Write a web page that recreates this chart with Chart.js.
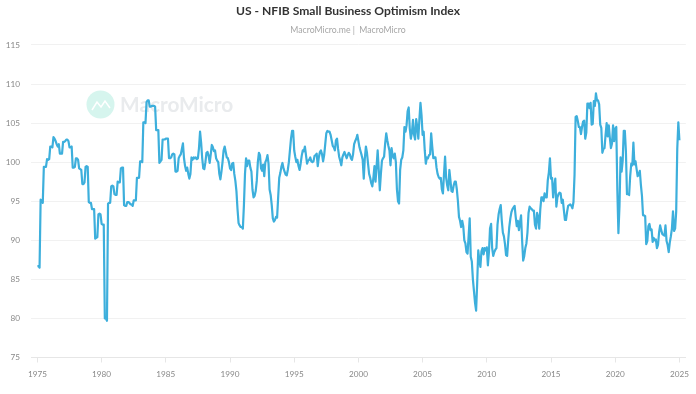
<!DOCTYPE html>
<html>
<head>
<meta charset="utf-8">
<title>US - NFIB Small Business Optimism Index</title>
<script src="https://cdn.jsdelivr.net/npm/chart.js@4/dist/chart.umd.min.js"></script>
<style>
    html, body { margin: 0; padding: 0; background: #fff; }
    canvas { display: block; }
</style>
</head>
<body>
<canvas id="nfibChart" width="696" height="394"></canvas>
<script>
const titleText = 'US - NFIB Small Business Optimism Index';
const subtitleText = 'MacroMicro.me |  MacroMicro';
const watermarkText = 'MacroMicro';

const startYear = 1975;
const xTicks = [1975, 1980, 1985, 1990, 1995, 2000, 2005, 2010, 2015, 2020, 2025];
const yTicks = [75, 80, 85, 90, 95, 100, 105, 110, 115];

// monthly values, one line per year (quarterly steps until 1985)
const optimismIndex = [
    86.7, 86.7, 86.5, 95.2, 95.0, 94.8, 99.4, 99.4, 99.4, 100.4, 100.3, 100.4,
    102.0, 102.0, 101.9, 103.2, 103.0, 102.7, 102.3, 102.0, 102.3, 101.1, 101.1, 101.1,
    102.6, 102.6, 102.7, 102.9, 102.9, 102.7, 101.9, 101.9, 102.0, 99.3, 99.3, 99.4,
    100.5, 100.5, 100.3, 99.2, 99.1, 99.0, 97.2, 97.2, 97.4, 99.4, 99.5, 99.4,
    94.9, 94.8, 94.8, 94.0, 94.0, 94.0, 90.2, 90.3, 90.4, 93.3, 93.4, 93.3,
    92.1, 92.0, 92.0, 80.0, 80.0, 79.7, 94.7, 94.8, 94.8, 96.9, 97.0, 96.9,
    95.9, 95.8, 95.8, 97.5, 97.4, 97.4, 99.2, 99.3, 99.3, 94.5, 94.4, 94.4,
    94.9, 94.9, 94.8, 94.6, 94.6, 94.4, 95.1, 95.1, 95.1, 98.0, 98.0, 98.0,
    100.1, 100.1, 100.0, 105.1, 105.1, 105.0, 107.7, 107.9, 107.9, 107.1, 107.1, 107.2,
    107.2, 107.2, 107.1, 104.1, 104.1, 104.1, 99.9, 100.1, 100.3, 102.9, 102.9, 102.9,
    103.0, 103.0, 103.0, 100.5, 100.5, 100.6, 101.0, 101.1, 101.0, 98.8, 98.8, 98.9,
    100.5, 100.8, 101.0, 101.7, 102.4, 100.5, 99.5, 98.9, 99.3, 98.5, 97.9, 98.5,
    100.6, 100.3, 100.6, 100.5, 100.6, 100.4, 100.5, 101.8, 103.9, 102.5, 100.5, 99.2,
    99.1, 100.0, 101.2, 101.3, 100.8, 99.9, 101.0, 102.2, 101.9, 101.4, 101.5, 100.5,
    100.2, 100.0, 98.5, 97.8, 98.8, 100.0, 101.5, 102.0, 101.3, 100.6, 100.5, 100.0,
    99.2, 99.0, 99.8, 99.9, 98.5, 97.6, 96.3, 94.0, 92.2, 91.9, 91.7, 91.7,
    91.5, 94.5, 98.5, 100.5, 99.5, 100.2, 100.2, 99.3, 98.8, 96.5, 95.5, 95.7,
    96.3, 97.6, 100.0, 101.2, 100.9, 99.2, 98.9, 99.7, 98.2, 100.0, 100.3, 100.9,
    99.8, 96.5, 95.8, 94.5, 92.8, 92.4, 92.6, 93.0, 92.9, 95.5, 98.0, 98.6,
    99.4, 99.9, 99.2, 98.8, 98.4, 98.3, 99.0, 100.0, 101.5, 103.0, 104.0, 104.0,
    101.5, 100.7, 100.0, 100.3, 99.5, 99.0, 99.8, 100.8, 101.5, 101.4, 102.0, 100.9,
    99.8, 100.2, 100.3, 100.6, 100.1, 100.0, 100.1, 100.8, 100.9, 101.1, 99.5, 100.6,
    101.3, 101.5, 101.0, 100.1, 100.9, 102.3, 103.7, 104.0, 103.9, 103.9, 103.5, 102.8,
    102.1, 101.9, 101.5, 102.8, 103.0, 101.7, 100.7, 100.2, 99.6, 100.6, 101.0, 101.3,
    100.9, 100.5, 100.9, 101.2, 101.0, 100.5, 100.3, 101.0, 102.3, 102.7, 103.0, 103.5,
    102.7, 101.9, 101.4, 100.9, 100.3, 97.9, 100.5, 102.0, 101.2, 99.8, 98.5, 98.0,
    97.3, 96.9, 98.0, 99.5, 97.5, 99.5, 101.5, 99.0, 96.4, 98.5, 100.2, 100.5,
    100.7, 102.4, 103.7, 102.8, 102.1, 101.5, 99.6, 101.8, 100.8, 100.5, 101.1, 100.0,
    96.5, 95.0, 94.7, 99.0, 100.3, 100.6, 101.5, 104.5, 103.9, 104.7, 106.5, 107.0,
    104.3, 103.0, 103.8, 105.4, 103.5, 102.9, 105.5, 104.5, 103.0, 105.5, 107.6, 106.0,
    103.5, 103.9, 101.5, 99.8, 100.6, 100.5, 100.9, 101.0, 103.7, 102.0, 100.5, 100.6,
    100.6, 99.3, 98.5, 98.1, 97.9, 98.0, 96.5, 96.0, 98.5, 100.7, 98.0, 97.0,
    96.4, 99.0, 97.7, 96.3, 96.2, 97.0, 97.5, 97.5, 96.5, 95.0, 93.0, 92.5,
    91.7, 92.5, 91.8, 90.0, 89.6, 88.5, 88.3, 90.5, 92.8, 87.9, 87.3, 85.0,
    83.5, 82.0, 81.0, 84.5, 88.7, 87.5, 86.6, 88.6, 89.0, 88.2, 89.0, 88.7,
    89.1, 86.8, 88.5, 91.5, 92.1, 89.0, 88.0, 88.5, 88.8, 89.0, 92.0, 93.3,
    94.0, 94.5, 92.5, 91.0, 90.5, 89.5, 88.1, 88.0, 90.0, 91.7, 92.8, 93.6,
    94.0, 94.2, 94.4, 93.0, 91.8, 92.5, 91.3, 92.3, 93.2, 90.0, 87.4, 88.0,
    89.0, 89.6, 91.0, 93.5, 94.3, 94.1, 94.0, 93.8, 93.8, 92.0, 91.5, 93.5,
    93.0, 91.5, 94.0, 95.5, 95.5, 95.0, 96.0, 95.5, 95.5, 97.7, 98.7, 100.5,
    97.9, 98.0, 95.5, 96.9, 97.9, 94.3, 95.5, 95.9, 96.1, 96.0, 94.8, 95.2,
    93.9, 92.6, 92.6, 93.6, 94.4, 94.5, 94.6, 94.4, 94.1, 94.9, 98.4, 105.8,
    105.9, 105.3, 104.5, 104.5, 103.6, 104.5, 105.2, 105.3, 103.0, 103.8, 107.5, 107.5,
    106.9, 107.6, 104.8, 104.9, 107.8, 107.2, 108.8, 107.9, 107.9, 107.4, 104.8, 104.4,
    101.2, 101.7, 101.8, 103.5, 105.0, 103.3, 104.7, 103.1, 101.8, 102.4, 104.7, 102.7,
    104.3, 104.5, 96.4, 90.9, 94.4, 100.6, 98.8, 100.2, 104.0, 104.0, 101.4, 95.9,
    95.9, 95.8, 98.2, 99.8, 99.6, 102.5, 99.7, 100.1, 99.1, 98.2, 98.4, 98.9,
    97.1, 95.7, 93.2, 93.2, 93.1, 89.5, 89.9, 91.8, 92.1, 91.3, 91.4, 89.8,
    90.3, 90.0, 90.1, 89.0, 89.4, 91.0, 91.9, 91.3, 90.8, 90.7, 90.6, 91.9,
    89.9, 89.4, 88.5, 89.7, 90.5, 91.5, 93.7, 91.2, 91.5, 93.7, 101.7, 105.1,
    102.8
];

const watermarkPlugin = {
    id: 'watermark',
    beforeDatasetsDraw: function(chart) {
        const ctx = chart.ctx;
        ctx.save();
        ctx.fillStyle = '#d6f5ee';
        ctx.beginPath();
        ctx.arc(100.5, 104.5, 14, 0, Math.PI * 2);
        ctx.fill();
        ctx.strokeStyle = '#ffffff';
        ctx.lineWidth = 1.5;
        ctx.beginPath();
        ctx.moveTo(92, 110);
        ctx.lineTo(97, 102);
        ctx.lineTo(101, 107);
        ctx.lineTo(105, 101);
        ctx.lineTo(110, 108);
        ctx.stroke();
        ctx.fillStyle = '#e9ebed';
        ctx.font = 'bold 20.8px Lato';
        ctx.textBaseline = 'middle';
        ctx.fillText(watermarkText, 120, 105);
        ctx.restore();
    }
};

new Chart(document.getElementById('nfibChart'), {
    type: 'line',
    data: {
        datasets: [{
            data: optimismIndex.map((v, i) => ({ x: startYear + i / 12, y: v })),
            borderColor: '#3dafdc',
            borderWidth: 2.2,
            borderJoinStyle: 'round',
            pointRadius: 0,
            tension: 0,
            fill: false
        }]
    },
    options: {
        responsive: false,
        animation: false,
        plugins: {
            legend: { display: false },
            tooltip: { enabled: false },
            title: {
                display: true,
                text: titleText,
                color: '#333333',
                font: { family: 'Lato', size: 12.1, weight: 'bold' },
                padding: { top: 4, bottom: 6 }
            },
            subtitle: {
                display: true,
                text: subtitleText,
                color: '#a6a6a6',
                font: { family: 'Lato', size: 8.7, weight: 'normal' },
                padding: { top: 0, bottom: 10 }
            }
        },
        scales: {
            x: {
                type: 'linear',
                min: 1974.5,
                max: 2025.5,
                afterBuildTicks: axis => { axis.ticks = xTicks.map(v => ({ value: v })); },
                afterFit: axis => { axis.height = 36.5; },
                grid: { drawOnChartArea: false, color: '#e6e6e6', tickLength: 5 },
                border: { color: '#e6e6e6' },
                ticks: {
                    color: '#888888',
                    font: { family: 'Lato', size: 8.2 },
                    maxRotation: 0,
                    autoSkip: false,
                    padding: 7,
                    callback: v => String(v)
                }
            },
            y: {
                min: 75,
                max: 115,
                afterBuildTicks: axis => { axis.ticks = yTicks.map(v => ({ value: v })); },
                afterFit: axis => { axis.width = 31; },
                grid: { color: '#f1f1f1', drawTicks: false },
                border: { display: false },
                ticks: {
                    color: '#888888',
                    font: { family: 'Lato', size: 8.2 },
                    padding: 11
                }
            },
            // empty axis, only keeps the 10px gap right of the plot so the title stays centred on the page
            gutter: {
                position: 'right',
                afterFit: axis => { axis.width = 10; },
                grid: { display: false },
                border: { display: false },
                ticks: { display: false }
            }
        }
    },
    plugins: [watermarkPlugin]
});
</script>
</body>
</html>
